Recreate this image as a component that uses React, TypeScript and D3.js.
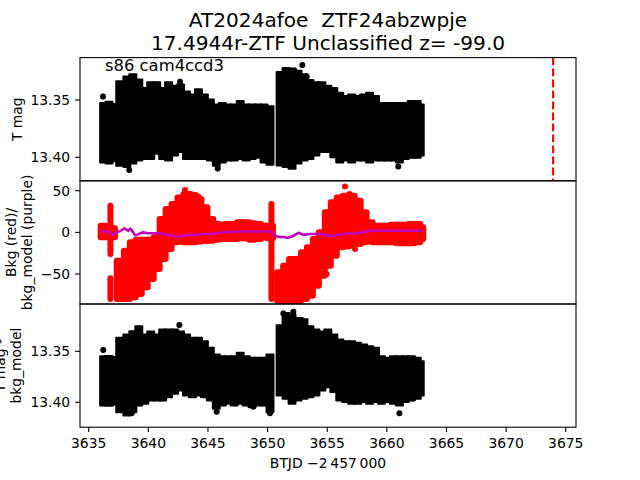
import React from "react";
import * as d3 from "d3";

// ---- data ----
const titleLines = ["AT2024afoe  ZTF24abzwpje", "17.4944r-ZTF Unclassified z= -99.0"];
const sectorLabel = "s86 cam4ccd3";
const xLabel = "BTJD \u22122\u2009457\u2009000";
const xTicks = [3635, 3640, 3645, 3650, 3655, 3660, 3665, 3670, 3675];
const magTicks = [13.35, 13.4];
const bkgTicks = [50, 0, -50];
const markerTime = 3673.94;

const segStart = [3636.0, 3637.3, 3650.8];
const segEnd = [3637.2, 3650.45, 3663.05];
const binHalf = 0.25;

const binT = [
  3636.2, 3636.7, 3637.1,
  3637.6, 3638.2, 3638.7, 3639.2, 3639.7, 3640.2, 3640.7, 3641.2, 3641.7, 3642.2, 3642.7, 3643.2, 3643.7,
  3644.2, 3644.7, 3645.2, 3645.7, 3646.2, 3646.7, 3647.2, 3647.7, 3648.2, 3648.7, 3649.2, 3649.7, 3650.2,
  3651.05, 3651.55, 3652.05, 3652.55, 3653.05, 3653.55, 3654.05, 3654.55, 3655.05, 3655.55, 3656.05, 3656.55,
  3657.05, 3657.55, 3658.05, 3658.55, 3659.05, 3659.55, 3660.05, 3660.55, 3661.05, 3661.55, 3662.05, 3662.55, 3662.93,
];

// panel 1: T mag envelope (bright edge / faint edge)
const lcTop = [
  13.353, 13.352, 13.354,
  13.334, 13.330, 13.328, 13.3325, 13.340, 13.335, 13.335, 13.340, 13.335, 13.338, 13.337, 13.343, 13.3456,
  13.341, 13.3456, 13.350, 13.3544, 13.353, 13.3544, 13.3544, 13.3514, 13.3544, 13.3544, 13.3544, 13.3544, 13.3558,
  13.326, 13.3225, 13.323, 13.325, 13.328, 13.333, 13.335, 13.335, 13.338, 13.340, 13.344, 13.347,
  13.3456, 13.347, 13.3456, 13.344, 13.347, 13.353, 13.353, 13.353, 13.353, 13.353, 13.3514, 13.3514, 13.3544,
];
const lcBot = [
  13.404, 13.405, 13.403,
  13.407, 13.408, 13.405, 13.4024, 13.401, 13.401, 13.3965, 13.401, 13.4024, 13.398, 13.395, 13.401, 13.401,
  13.401, 13.401, 13.4024, 13.407, 13.404, 13.4024, 13.4024, 13.401, 13.4024, 13.401, 13.400, 13.404, 13.406,
  13.4068, 13.408, 13.4095, 13.405, 13.4024, 13.401, 13.398, 13.395, 13.395, 13.3995, 13.404, 13.4024,
  13.404, 13.4024, 13.4024, 13.404, 13.4024, 13.4024, 13.4024, 13.4024, 13.404, 13.401, 13.400, 13.400, 13.398,
];
const lcOutT = [3636.2, 3642.66, 3645.82, 3660.96, 3651.46, 3652.23, 3652.91, 3653.28, 3638.4];
const lcOutM = [13.347, 13.334, 13.4097, 13.408, 13.3238, 13.3244, 13.3194, 13.3297, 13.411];

// panel 2: background flux envelope (red)
const bkgHi = [
  8, 6, 5,
  -34, -22, -12, -9, -9, -9, -6, 16, 28, 34, 42, 46, 45,
  40, 30, 16, 10, 9, 10, 10, 12, 12, 11, 10, 8, 8,
  -48, -40, -32, -32, -24, -18, -8, 0, 24, 36, 42, 44,
  44, 38, 24, 12, 8, 8, 8, 9, 9, 9, 10, 10, 6,
];
const bkgLo = [
  -6, -5, -6,
  -80, -80, -78, -74, -66, -56, -44, -32, -20, -12, -11, -12, -12,
  -11, -10, -10, -9, -8, -8, -8, -7, -7, -9, -8, -6, -7,
  -82, -82, -82, -82, -80, -76, -64, -52, -40, -28, -18, -17,
  -16, -14, -12, -11, -12, -12, -12, -12, -13, -13, -13, -12, -8,
];
const bkgSpikeT = [3636.82, 3636.82, 3650.32];
const bkgSpikeHi = [32, -55, 34];
const bkgSpikeLo = [-26, -80, -80];
const bkgOutT = [3643.07, 3643.58, 3644.19, 3656.49, 3656.86, 3654.95, 3657.33];
const bkgOutV = [51, 46, 43, 55, 46, -50, -20];

// panel 2: background model (purple)
const modelT = [
  3636.0, 3636.3, 3636.65, 3636.95, 3637.35, 3637.7, 3638.0, 3638.3, 3638.5, 3638.9, 3639.2, 3639.5, 3640.0,
  3640.5, 3641.0, 3641.5, 3642.0, 3642.3, 3642.8, 3643.3, 3643.9, 3644.5, 3645.0, 3645.6, 3646.2, 3646.7,
  3647.5, 3648.1, 3648.7, 3649.3, 3649.8, 3650.3, 3650.6, 3651.0, 3651.3, 3651.7, 3652.2, 3652.6, 3653.0,
  3653.5, 3654.0, 3654.6, 3654.95, 3655.5, 3656.3, 3657.2, 3658.0, 3658.6, 3659.2, 3660.0, 3661.0, 3662.0, 3663.0,
];
const modelV = [
  1, 1.5, 1, -3, 0, 2, 5, 2, 4.5, -3.5, -2, 0, -1,
  -1, -1, -3, -3.5, -5.5, -4, -3, -3, -2, -2, -1, 0, 0.5,
  1, 1, 1, 1, 1, 1, -4, -5.5, -5.5, -6.5, -4, -0.5, -3,
  -2, -2, -2, -4, -4, -2, -1, 0, 2, 2, 2, 2, 2, 2,
];

// panel 3: T mag - bkg_model envelope
const dfTop = [
  13.3553, 13.355, 13.356,
  13.3373, 13.334, 13.3308, 13.3259, 13.334, 13.331, 13.334, 13.3291, 13.3291, 13.3291, 13.331, 13.334, 13.3373,
  13.3373, 13.3406, 13.3471, 13.3536, 13.3553, 13.3553, 13.3553, 13.352, 13.3553, 13.3569, 13.3569, 13.3569, 13.3536,
  13.325, 13.3128, 13.3144, 13.3177, 13.319, 13.3259, 13.329, 13.331, 13.3291, 13.334, 13.3389, 13.3406,
  13.3406, 13.3422, 13.3438, 13.3455, 13.347, 13.3553, 13.3569, 13.3553, 13.3553, 13.3553, 13.3553, 13.3569, 13.3602,
];
const dfBot = [
  13.4026, 13.403, 13.402,
  13.4092, 13.4124, 13.4092, 13.4026, 13.401, 13.3977, 13.3977, 13.3977, 13.3945, 13.3912, 13.388, 13.3928, 13.3945,
  13.3928, 13.3945, 13.3977, 13.4059, 13.4026, 13.401, 13.4026, 13.401, 13.4026, 13.4043, 13.4026, 13.4026, 13.4092,
  13.3928, 13.396, 13.401, 13.3977, 13.396, 13.3945, 13.3928, 13.388, 13.3847, 13.3895, 13.3977, 13.3993,
  13.401, 13.401, 13.3993, 13.401, 13.3993, 13.401, 13.3993, 13.401, 13.4026, 13.3993, 13.3977, 13.396, 13.3928,
];
const dfOutT = [3636.22, 3642.6, 3651.32, 3652.16, 3652.86, 3650.2, 3661.05, 3638.6, 3645.73, 3648.8];
const dfOutM = [13.3487, 13.3242, 13.3128, 13.3112, 13.3193, 13.4108, 13.4108, 13.4108, 13.4092, 13.4043];
const outErr = 0.0025;

// ---- layout ----
const W = 640;
const H = 480;
const L = 80;
const R = 576;
const panelTop = [57.6, 180.8, 304];
const PH = 123.2;
const FONT = "DejaVu Sans, sans-serif";

const x = d3.scaleLinear().domain([3634.27, 3675.86]).range([L, R]);
const y1 = d3.scaleLinear().domain([13.313, 13.4205]).range([panelTop[0], panelTop[0] + PH]);
const y2 = d3.scaleLinear().domain([61.9, -86]).range([panelTop[1], panelTop[1] + PH]);
const y3 = d3.scaleLinear().domain([13.3036, 13.4244]).range([panelTop[2], panelTop[2] + PH]);

function segOf(t: number) {
  for (let i = 0; i < segStart.length; i++) if (t >= segStart[i] - 0.01 && t <= segEnd[i] + 0.01) return i;
  return 0;
}

function bins(a: number[], b: number[], ys: any, pad: number, color: string, rx: number, key: string) {
  return binT.map((c, i) => {
    const s = segOf(c);
    const x0 = x(Math.max(c - binHalf, segStart[s])) - pad;
    const x1 = x(Math.min(c + binHalf, segEnd[s])) + pad;
    const p0 = Math.min(ys(a[i]), ys(b[i])) - pad;
    const p1 = Math.max(ys(a[i]), ys(b[i])) + pad;
    return <rect key={key + i} x={x0} y={p0} width={x1 - x0} height={p1 - p0} fill={color} rx={rx} />;
  });
}

function magPoints(ts: number[], ms: number[], ys: any, key: string) {
  return ts.map((t, i) => (
    <g key={key + i}>
      <line x1={x(t)} x2={x(t)} y1={ys(ms[i] - outErr)} y2={ys(ms[i] + outErr)} stroke="#000" strokeWidth={1.5} />
      <circle cx={x(t)} cy={ys(ms[i])} r={3} fill="#000" />
    </g>
  ));
}

function Frame({ i, ticks, ys, fmt }: { i: number; ticks: number[]; ys: any; fmt: (v: number) => string }) {
  const top = panelTop[i];
  return (
    <g>
      <rect x={L} y={top} width={R - L} height={PH} fill="none" stroke="#000" strokeWidth={1.1} />
      {ticks.map((v) => (
        <g key={v}>
          <line x1={L - 4.9} x2={L} y1={ys(v)} y2={ys(v)} stroke="#000" strokeWidth={1.1} />
          <text x={L - 9.8} y={ys(v) + 5} textAnchor="end" fontSize={13.9} fontFamily={FONT} fill="#000">
            {fmt(v)}
          </text>
        </g>
      ))}
    </g>
  );
}

function YLabel({ lines, xs, cy }: { lines: string[]; xs: number[]; cy: number }) {
  return (
    <g>
      {lines.map((s, k) => (
        <text key={k} transform={`translate(${xs[k]},${cy}) rotate(-90)`} textAnchor="middle" fontSize={13.9} fontFamily={FONT} fill="#000">
          {s}
        </text>
      ))}
    </g>
  );
}

export default function App() {
  const line = d3
    .line<number>()
    .x((_, i) => x(modelT[i]))
    .y((v) => y2(v));
  const magFmt = (v: number) => v.toFixed(2);
  const bkgFmt = (v: number) => (v < 0 ? "\u2212" + Math.abs(v) : String(v));
  return (
    <svg width={W} height={H} style={{ position: "absolute", left: 0, top: 0, background: "#fff" }}>
      <defs>
        {panelTop.map((t, i) => (
          <clipPath id={"clip" + i} key={i}>
            <rect x={L} y={t} width={R - L} height={PH} />
          </clipPath>
        ))}
      </defs>
      <rect width={W} height={H} fill="#fff" />

      {/* panel 1 */}
      <g clipPath="url(#clip0)">
        {bins(lcTop, lcBot, y1, 1.5, "#000", 1, "a")}
        {magPoints(lcOutT, lcOutM, y1, "ao")}
        <line x1={x(markerTime)} x2={x(markerTime)} y1={panelTop[0]} y2={panelTop[0] + PH} stroke="#ff0000" strokeWidth={2.1} strokeDasharray="7.7,3.3" />
      </g>
      <Frame i={0} ticks={magTicks} ys={y1} fmt={magFmt} />
      <text x={105} y={70.5} fontSize={16.4} fontFamily={FONT} fill="#000">{sectorLabel}</text>

      {/* panel 2 */}
      <g clipPath="url(#clip1)">
        {bins(bkgHi, bkgLo, y2, 3, "#ff0000", 3, "b")}
        {bkgSpikeT.map((t, i) => (
          <rect key={"bs" + i} x={x(t) - 3} y={y2(bkgSpikeHi[i]) - 3} width={6} height={y2(bkgSpikeLo[i]) - y2(bkgSpikeHi[i]) + 6} rx={3} fill="#ff0000" />
        ))}
        {bkgOutT.map((t, i) => (
          <circle key={"bo" + i} cx={x(t)} cy={y2(bkgOutV[i])} r={3} fill="#ff0000" />
        ))}
        <path d={line(modelV) || ""} fill="none" stroke="#bf00bf" strokeWidth={2.6} strokeLinejoin="round" />
      </g>
      <Frame i={1} ticks={bkgTicks} ys={y2} fmt={bkgFmt} />

      {/* panel 3 */}
      <g clipPath="url(#clip2)">
        {bins(dfTop, dfBot, y3, 1.5, "#000", 1, "c")}
        {magPoints(dfOutT, dfOutM, y3, "co")}
      </g>
      <Frame i={2} ticks={magTicks} ys={y3} fmt={magFmt} />

      {/* x axis */}
      {xTicks.map((v) => (
        <g key={v}>
          <line x1={x(v)} x2={x(v)} y1={panelTop[2] + PH} y2={panelTop[2] + PH + 4.9} stroke="#000" strokeWidth={1.1} />
          <text x={x(v)} y={447.5} textAnchor="middle" fontSize={13.9} fontFamily={FONT} fill="#000">
            {v}
          </text>
        </g>
      ))}
      <text x={(L + R) / 2} y={468} textAnchor="middle" fontSize={13.9} fontFamily={FONT} fill="#000">
        {xLabel}
      </text>

      {/* y labels */}
      <YLabel lines={["T mag"]} xs={[21.5]} cy={panelTop[0] + PH / 2} />
      <YLabel lines={["Bkg (red)/", "bkg_model (purple)"]} xs={[16, 32.2]} cy={panelTop[1] + PH / 2} />
      <YLabel lines={["T mag -", "bkg_model"]} xs={[5.2, 21.4]} cy={panelTop[2] + PH / 2} />

      {/* title */}
      {titleLines.map((s, k) => (
        <text key={k} x={(L + R) / 2} y={27 + k * 23} textAnchor="middle" fontSize={20.1} fontFamily={FONT} fill="#000" style={{ whiteSpace: "pre" }}>
          {s}
        </text>
      ))}
    </svg>
  );
}
